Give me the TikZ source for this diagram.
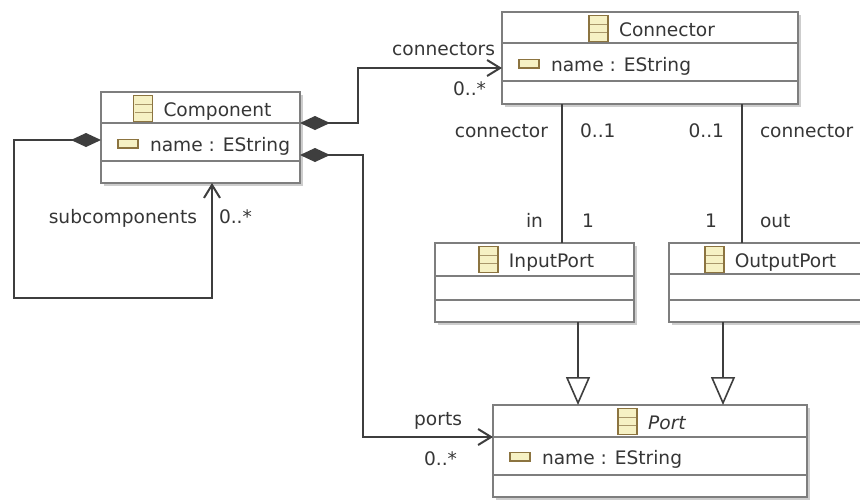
\documentclass[tikz,border=0pt]{standalone}
\usepackage{fontspec}
\setmainfont{DejaVu Sans}
\usetikzlibrary{arrows.meta,calc}
\definecolor{linecol}{HTML}{3E3E3E}
\definecolor{boxcol}{HTML}{7E7E7E}
\definecolor{shadowcol}{HTML}{CDCDCD}
\definecolor{txtcol}{HTML}{363636}
\definecolor{iconborder}{HTML}{8C7440}
\definecolor{iconfill}{HTML}{F6F1C4}
\definecolor{iconline}{HTML}{A8966A}
\tikzset{
  classbox/.style={draw=boxcol, line width=2pt, fill=white, inner sep=0pt, outer sep=0pt, rectangle, anchor=north west},
  boxshadow/.style={fill=shadowcol},
  divider/.style={draw=boxcol, line width=2pt},
  lbl/.style={text=txtcol, inner sep=0pt, outer sep=0pt, font=\fontsize{18.6}{22}\selectfont},
  titlelbl/.style={lbl},
  assoc/.style={draw=linecol, line width=2pt},
  diamondtip/.tip={Diamond[length=30pt,width=14pt,fill=linecol,color=linecol]},
  opentip/.tip={Straight Barb[length=13pt,width=16pt,color=linecol]},
  gentip/.tip={Triangle[length=28pt,width=24pt,fill=white,color=linecol,line width=1.6pt]},
}
% #1 name, #2 x, #3 y, #4 w, #5 h, #6 d1, #7 d2, #8 title, #9 attribute
\newcommand{\EClassBox}[9]{%
  \fill[boxshadow] (#2+3,#3+3) rectangle ++(#4,#5);
  \node[classbox, minimum width=#4pt, minimum height=#5pt] (#1) at (#2,#3) {};
  \draw[divider] ($(#1.north west)+(0,#6)$) -- ($(#1.north east)+(0,#6)$);
  \draw[divider] ($(#1.north west)+(0,#7)$) -- ($(#1.north east)+(0,#7)$);
  \node[titlelbl, anchor=base] (#1-title) at ($(#1.north)+(17,24)$) {#8};
  \begin{scope}[shift={($(#1-title.base west)+(-11,-7.7)$)}]
    \filldraw[fill=iconfill, draw=iconborder, line width=1.5pt] (-19,-13) rectangle (0,13);
    \draw[iconline, line width=1pt] (-18,-4.3) -- (-1,-4.3) (-18,4.3) -- (-1,4.3);
  \end{scope}
  \ifx\relax#9\relax\else
  \node[lbl, anchor=base west] (#1-attr) at ($(#1.north west)+(49,59.5)$) {#9};
  \filldraw[fill=iconfill, draw=iconborder, line width=1.5pt]
    ($(#1.north west)+(17,47.5)$) rectangle ($(#1.north west)+(37,56)$);
  \fi
}
\begin{document}
\begin{tikzpicture}[x=1pt,y=-1pt]
\useasboundingbox (0,0) rectangle (860,499);
\clip (0,0) rectangle (860,499);
\fill[white] (0,0) rectangle (860,499);

\EClassBox{comp}{101}{92}{199}{91}{31}{69}{Component}{name : EString}
\EClassBox{conn}{502}{12}{296}{92}{31}{69}{Connector}{name : EString}
\EClassBox{inport}{435}{243}{199}{79}{33}{57}{InputPort}{}
\EClassBox{outport}{669}{243}{199}{79}{31}{57}{OutputPort}{}
\EClassBox{port}{493}{405}{314}{92}{32}{70}{\itshape Port}{name : EString}

% Component -> Connector (connectors)
\draw[assoc, diamondtip-opentip] ($(comp.north east)+(0,31)$) -- (358,123) -- (358,68) -- ($(conn.north west)+(0,56)$);
\node[lbl, anchor=base east] (l-connectors) at (495,55) {connectors};
\node[lbl, anchor=base east] (m-connectors) at (486,95) {0..*};

% Component -> Port (ports)
\draw[assoc, diamondtip-opentip] ($(comp.north east)+(0,63)$) -- (363,155) -- (363,437) -- ($(port.north west)+(0,32)$);
\node[lbl, anchor=base east] (l-ports) at (462,425) {ports};
\node[lbl, anchor=base east] (m-ports) at (457,465) {0..*};

% Component self (subcomponents)
\draw[assoc, diamondtip-opentip] ($(comp.north west)+(0,48)$) -- (14,140) -- (14,298) -- (212,298) -- ($(comp.south west)+(111,0)$);
\node[lbl, anchor=base east] (l-sub) at (197,223) {subcomponents};
\node[lbl, anchor=base west] (m-sub) at (219,223) {0..*};

% Connector -- InputPort
\draw[assoc] ($(conn.south west)+(60,0)$) -- ($(inport.north west)+(127,0)$);
\node[lbl, anchor=base east] (l-conn-in) at (548,137.5) {connector};
\node[lbl, anchor=base west] (m-conn-in) at (580,137.5) {0..1};
\node[lbl, anchor=base east] (l-in) at (543,227.7) {in};
\node[lbl, anchor=base west] (m-in) at (582,227.7) {1};

% Connector -- OutputPort
\draw[assoc] ($(conn.south west)+(240,0)$) -- ($(outport.north west)+(73,0)$);
\node[lbl, anchor=base east] (m-conn-out) at (724,137.5) {0..1};
\node[lbl, anchor=base west] (l-conn-out) at (760,137.5) {connector};
\node[lbl, anchor=base east] (m-out) at (717,227.7) {1};
\node[lbl, anchor=base west] (l-out) at (760,227.7) {out};

% Generalizations
\draw[assoc, -gentip] ($(inport.south west)+(143,0)$) -- ($(port.north west)+(85,0)$);
\draw[assoc, -gentip] ($(outport.south west)+(54,0)$) -- ($(port.north west)+(230,0)$);
\end{tikzpicture}
\end{document}
